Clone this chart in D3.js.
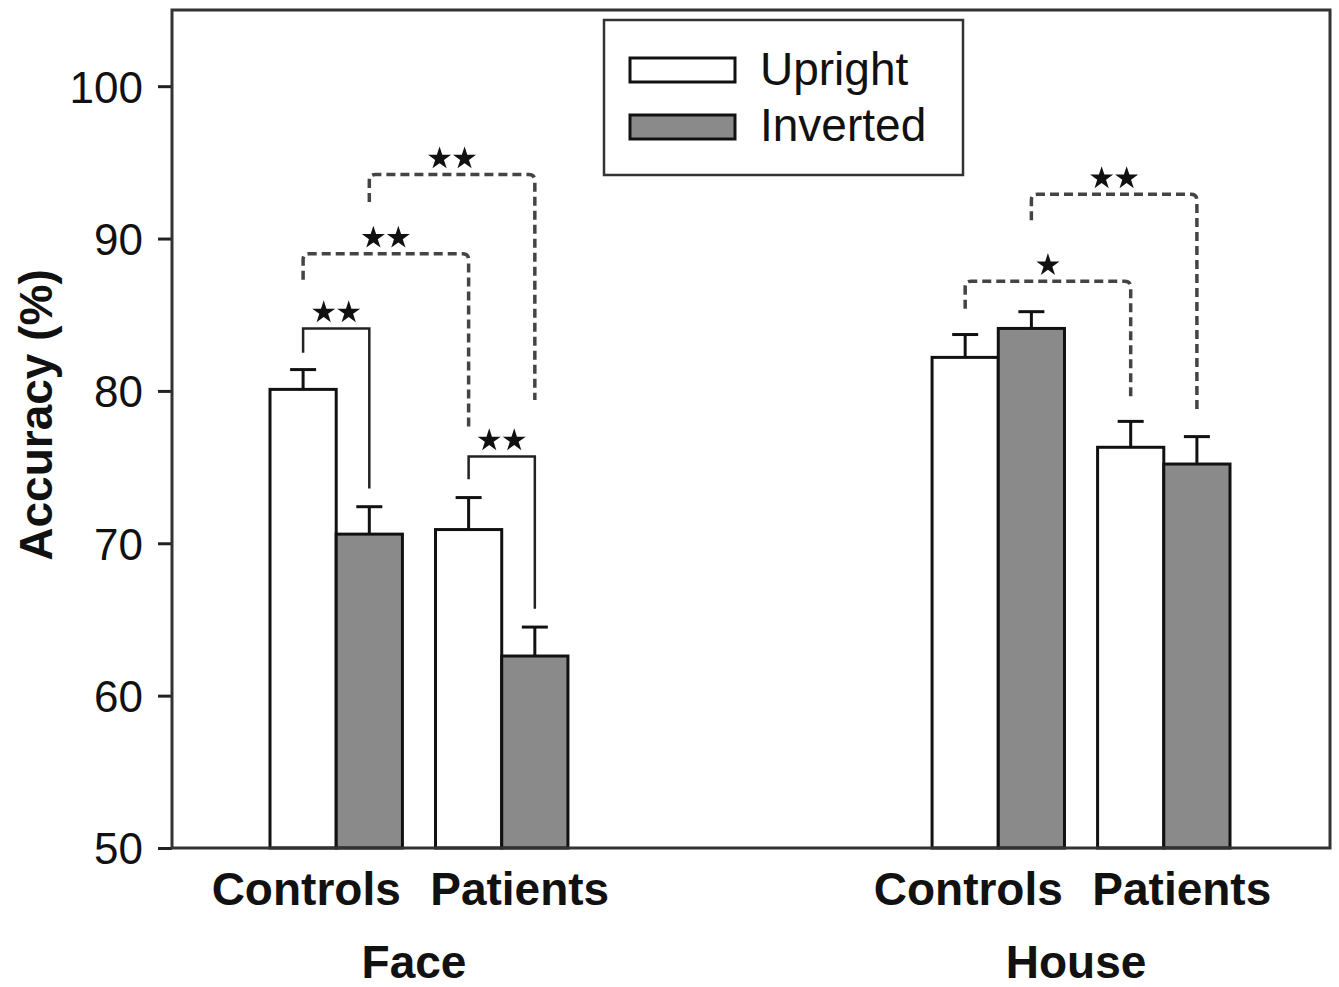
<!DOCTYPE html>
<html>
<head>
<meta charset="utf-8">
<script src="https://cdn.jsdelivr.net/npm/d3@7"></script>
<style>
  body { margin: 0; background: #fff; }
  svg { display: block; font-family: "Liberation Sans", Arial, Helvetica, sans-serif; }
</style>
</head>
<body>
<svg id="chart" width="1339" height="987"></svg>
<script>
// data
const groups = ["Face", "House"];
const subjects = ["Controls", "Patients"];
const conditions = ["Upright", "Inverted"];
// order: Face-Controls, Face-Patients, House-Controls, House-Patients
const uprightMean  = [80.1, 70.9, 82.2, 76.3];
const uprightErr   = [1.3, 2.1, 1.5, 1.7];
const invertedMean = [70.6, 62.6, 84.1, 75.2];
const invertedErr  = [1.8, 1.9, 1.1, 1.8];
const yTicks = [50, 60, 70, 80, 90, 100];

// significance brackets: from bar a to bar b, top level, leg ends, label
const sigFrom   = ["Face-Controls-Upright", "Face-Patients-Upright", "Face-Controls-Upright", "Face-Controls-Inverted", "House-Controls-Upright", "House-Controls-Inverted"];
const sigTo     = ["Face-Controls-Inverted", "Face-Patients-Inverted", "Face-Patients-Upright", "Face-Patients-Inverted", "House-Patients-Upright", "House-Patients-Inverted"];
const sigTop    = [84.1, 75.7, 89.0, 94.2, 87.2, 92.9];
const sigFromEnd = [82.5, 74.2, 87.3, 92.4, 85.4, 91.2];
const sigToEnd   = [73.6, 65.7, 77.6, 79.4, 79.5, 78.5];
const sigLabel  = ["**", "**", "**", "**", "*", "**"];
const sigDashed = [false, false, true, true, true, true];

let chart = d3.select("#chart");
const plotLeft = 172, plotRight = 1330, plotTop = 10, plotBottom = 848;

// build bar table
let bars = [];
groups.forEach(function (g, gi) {
    subjects.forEach(function (s, si) {
        let k = gi * 2 + si;
        bars.push({group: g, subject: s, cond: "Upright", mean: uprightMean[k], err: uprightErr[k]});
        bars.push({group: g, subject: s, cond: "Inverted", mean: invertedMean[k], err: invertedErr[k]});
    });
});

// slots: two empty ones between the groups
let slots = ["Face-Controls", "Face-Patients", "gap1", "gap2", "House-Controls", "House-Patients"];
let x = d3.scaleBand()
    .domain(slots)
    .range([270, 1230])
    .paddingInner(0.2)
    .paddingOuter(0);
let xc = d3.scaleBand()
    .domain(conditions)
    .range([0, x.bandwidth()]);

let y = d3.scaleLinear()
    .domain([50, 105])
    .range([plotBottom, plotTop]);

function barX(d) { return x(d.group + "-" + d.subject) + xc(d.cond); }
function barCenter(key) {
    let p = key.split("-");
    return x(p[0] + "-" + p[1]) + xc(p[2]) + xc.bandwidth() / 2;
}

// y axis
let yAxis = d3.axisLeft(y)
    .tickValues(yTicks)
    .tickSize(14)
    .tickSizeOuter(0)
    .tickPadding(15);
let yAxisGroup = chart.append("g")
    .attr("transform", "translate(" + plotLeft + ",0)")
    .call(yAxis);
yAxisGroup.select(".domain").remove();
yAxisGroup.selectAll(".tick line").attr("stroke", "#222").attr("stroke-width", 3);
yAxisGroup.selectAll(".tick text")
    .attr("fill", "#111")
    .style("font-size", "44px")
    .attr("dy", "0.36em");

// y axis label
chart.append("text")
    .text("Accuracy (%)")
    .attr("transform", "translate(52," + 415 + ") rotate(-90)")
    .attr("text-anchor", "middle")
    .attr("font-weight", 700)
    .style("font-size", "46px")
    .attr("fill", "#111");

// bars
chart.selectAll("rect.bar")
    .data(bars)
    .enter()
    .append("rect")
    .attr("class", "bar")
    .attr("x", barX)
    .attr("y", function (d) { return y(d.mean); })
    .attr("width", xc.bandwidth())
    .attr("height", function (d) { return y(50) - y(d.mean); })
    .attr("fill", function (d) { return d.cond == "Upright" ? "#ffffff" : "#8a8a8a"; })
    .attr("stroke", "#111")
    .attr("stroke-width", 3);

// error bars (upper only)
let eb = chart.selectAll("g.err")
    .data(bars)
    .enter()
    .append("g")
    .attr("class", "err")
    .attr("stroke", "#111")
    .attr("stroke-width", 3);
eb.append("line")
    .attr("x1", function (d) { return barX(d) + xc.bandwidth() / 2; })
    .attr("x2", function (d) { return barX(d) + xc.bandwidth() / 2; })
    .attr("y1", function (d) { return y(d.mean); })
    .attr("y2", function (d) { return y(d.mean + d.err); });
eb.append("line")
    .attr("x1", function (d) { return barX(d) + xc.bandwidth() / 2 - 13; })
    .attr("x2", function (d) { return barX(d) + xc.bandwidth() / 2 + 13; })
    .attr("y1", function (d) { return y(d.mean + d.err); })
    .attr("y2", function (d) { return y(d.mean + d.err); });

// frame
chart.append("rect")
    .attr("x", plotLeft)
    .attr("y", plotTop)
    .attr("width", plotRight - plotLeft)
    .attr("height", plotBottom - plotTop)
    .attr("fill", "none")
    .attr("stroke", "#333")
    .attr("stroke-width", 3);

// significance brackets
let sig = sigFrom.map(function (a, i) {
    return {a: a, b: sigTo[i], top: sigTop[i], aEnd: sigFromEnd[i], bEnd: sigToEnd[i], label: sigLabel[i], dashed: sigDashed[i]};
});
let star = d3.symbol().type(d3.symbolStar).size(165);
sig.forEach(function (s) {
    let x1 = barCenter(s.a), x2 = barCenter(s.b), yt = y(s.top);
    let r = s.dashed ? 6 : 0;
    let path = d3.path();
    path.moveTo(x1, y(s.aEnd));
    path.lineTo(x1, yt + r);
    if (r) path.quadraticCurveTo(x1, yt, x1 + r, yt);
    path.lineTo(x2 - r, yt);
    if (r) path.quadraticCurveTo(x2, yt, x2, yt + r);
    path.lineTo(x2, y(s.bEnd));
    chart.append("path")
        .attr("d", path.toString())
        .attr("fill", "none")
        .attr("stroke", s.dashed ? "#444" : "#222")
        .attr("stroke-width", s.dashed ? 3.5 : 2.5)
        .attr("stroke-dasharray", s.dashed ? "9,5" : null);
    let n = s.label.length, mid = (x1 + x2) / 2;
    for (let k = 0; k < n; k++) {
        chart.append("path")
            .attr("d", star())
            .attr("transform", "translate(" + (mid + (k - (n - 1) / 2) * 25) + "," + (yt - 16) + ")")
            .attr("fill", "#111");
    }
});

// x labels
let subjOffset = {"Controls": -30, "Patients": 18};
groups.forEach(function (g) {
    subjects.forEach(function (s) {
        chart.append("text")
            .text(s)
            .attr("x", x(g + "-" + s) + x.bandwidth() / 2 + subjOffset[s])
            .attr("y", 905)
            .attr("text-anchor", "middle")
            .attr("font-weight", 700)
            .style("font-size", "46px")
            .attr("fill", "#111");
    });
    let gx = (x(g + "-Controls") + x(g + "-Patients") + x.bandwidth()) / 2;
    chart.append("text")
        .text(g)
        .attr("x", gx - 5)
        .attr("y", 978)
        .attr("text-anchor", "middle")
        .attr("font-weight", 700)
        .style("font-size", "46px")
        .attr("fill", "#111");
});

// legend
let legend = chart.append("g");
legend.append("rect")
    .attr("x", 604).attr("y", 20)
    .attr("width", 359).attr("height", 155)
    .attr("fill", "#fff")
    .attr("stroke", "#333")
    .attr("stroke-width", 2.5);
conditions.forEach(function (c, i) {
    legend.append("rect")
        .attr("x", 630).attr("y", 58 + i * 57)
        .attr("width", 105).attr("height", 24)
        .attr("fill", c == "Upright" ? "#ffffff" : "#8a8a8a")
        .attr("stroke", "#111")
        .attr("stroke-width", 3);
    legend.append("text")
        .text(c)
        .attr("x", 760).attr("y", 85 + i * 56)
        .style("font-size", "46px")
        .attr("fill", "#111");
});
</script>
</body>
</html>
